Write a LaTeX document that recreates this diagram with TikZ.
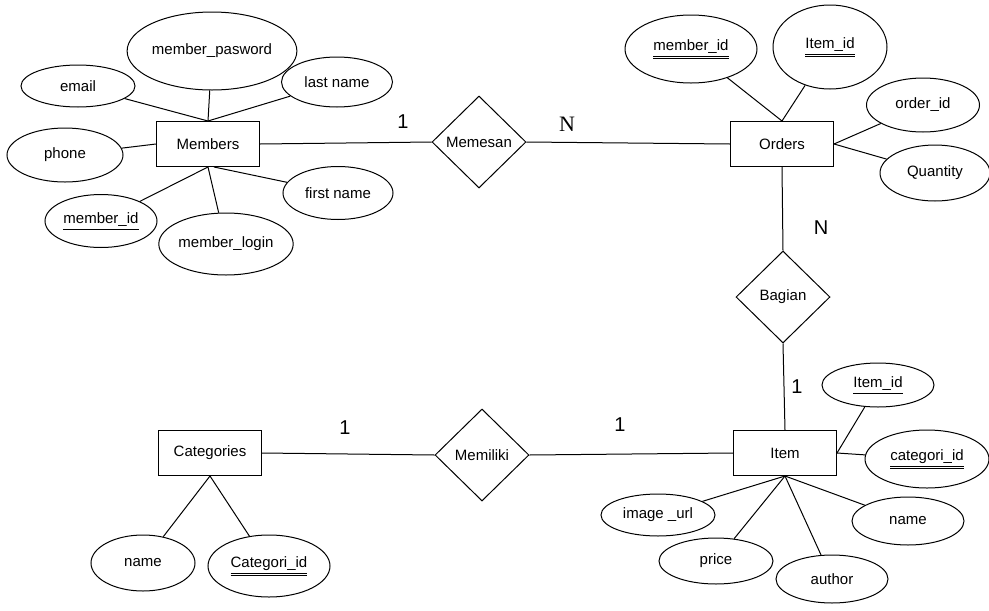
\documentclass[tikz,border=0pt]{standalone}
\usepackage{fontspec}
\setmainfont{Liberation Sans}
\newfontfamily\serifN{Liberation Serif}
\usetikzlibrary{shapes.geometric}
\newcommand\dul[1]{\setbox0\hbox{#1}\vtop{\copy0\kern2.5pt\hrule width\wd0 height0.8pt\kern1.6pt\hrule width\wd0 height0.8pt}}
\newcommand\sul[1]{\setbox0\hbox{#1}\vtop{\copy0\kern2.5pt\hrule width\wd0 height0.9pt}}
\tikzset{
  every node/.style={font=\fontsize{15}{17}\selectfont, inner sep=0pt},
  attr/.style={ellipse, draw, line width=1pt},
  ent/.style={rectangle, draw, line width=1pt, minimum width=103pt, minimum height=45pt},
  rel/.style={diamond, draw, line width=1pt, minimum width=94pt, minimum height=92pt},
  conn/.style={line width=1pt},
  card/.style={font=\fontsize{20}{22}\selectfont},
}
\begin{document}
\begin{tikzpicture}[x=1pt,y=-1pt]
\useasboundingbox[fill=white] (0,0) rectangle (989,611);
% Members
\node[ent] (members) at (208,144) {Members};
\node[attr, minimum width=160pt, minimum height=78pt] (mpass) at (212,51) {member\_pasword};
\node[attr, minimum width=114pt, minimum height=42pt] (email) at (78,86) {email};
\node[attr, minimum width=111pt, minimum height=50pt] (lname) at (337,82) {last name};
\node[attr, minimum width=116pt, minimum height=54pt] (phone) at (65,155) {phone};
\node[attr, minimum width=112pt, minimum height=53pt] (mid) at (101,221) {\sul{member\_id}};
\node[attr, minimum width=122pt, minimum height=62pt] (mlogin) at (226,244) {member\_login};
\node[attr, minimum width=110pt, minimum height=53pt] (fname) at (338,193) {first name};
\draw[conn] (mpass) -- (members.north);
\draw[conn] (email) -- (members.north);
\draw[conn] (lname) -- (members.north);
\draw[conn] (phone) -- (members.west);
\draw[conn] (mid) -- (members.south);
\draw[conn] (mlogin) -- (members.south);
\draw[conn] (fname) -- ([xshift=6pt]members.south);
% Memesan
\node[rel] (memesan) at (479,142) {Memesan};
\draw[conn] (members.east) -- (memesan.west);
% Orders
\node[ent] (orders) at (782,144) {Orders};
\draw[conn] (memesan.east) -- (orders.west);
\node[attr, minimum width=132pt, minimum height=68pt] (omid) at (691,49) {\dul{member\_id}};
\node[attr, minimum width=114pt, minimum height=84pt] (oiid) at (830,47) {\dul{Item\_id}};
\node[attr, minimum width=113pt, minimum height=54pt] (oid) at (923,105) {order\_id};
\node[attr, minimum width=110pt, minimum height=56pt] (qty) at (935,173) {Quantity};
\draw[conn] (omid) -- (orders.north);
\draw[conn] (oiid) -- (orders.north);
\draw[conn] (oid) -- (orders.east);
\draw[conn] (qty) -- (orders.east);
% Bagian
\node[rel] (bagian) at (783,297) {Bagian};
\draw[conn] (orders.south) -- (bagian.north);
% Item
\node[ent] (item) at (785,453) {Item};
\draw[conn] (bagian.south) -- (item.north);
\node[attr, minimum width=112pt, minimum height=44pt] (iid) at (878,385) {\sul{Item\_id}};
\node[attr, minimum width=124pt, minimum height=58pt] (icat) at (927,459) {\dul{categori\_id}};
\node[attr, minimum width=114pt, minimum height=42pt] (iurl) at (658,515) {image \_url};
\node[attr, minimum width=112pt, minimum height=48pt] (iname) at (908,521) {name};
\node[attr, minimum width=114pt, minimum height=46pt] (iprice) at (716,561) {price};
\node[attr, minimum width=112pt, minimum height=48pt] (iauth) at (832,579) {author};
\draw[conn] (iid) -- (item.east);
\draw[conn] (icat) -- (item.east);
\draw[conn] (iurl) -- (item.south);
\draw[conn] (iprice) -- (item.south);
\draw[conn] (iauth) -- (item.south);
\draw[conn] (iname) -- (item.south);
% Memiliki
\node[rel] (memiliki) at (482,455) {Memiliki};
\node[ent] (cat) at (210,453) {Categories};
\draw[conn] (cat.east) -- (memiliki.west);
\draw[conn] (memiliki.east) -- (item.west);
\node[attr, minimum width=104pt, minimum height=56pt] (cname) at (143,563) {name};
\node[attr, minimum width=122pt, minimum height=62pt] (cid) at (269,566) {\dul{Categori\_id}};
\draw[conn] (cname) -- (cat.south);
\draw[conn] (cid) -- (cat.south);
% cardinalities
\node[card] (c1) at (403,122) {1};
\node[card, font=\serifN\fontsize{22}{24}\selectfont] (c2) at (567,124) {N};
\node[card] (c3) at (821,228) {N};
\node[card] (c4) at (797,387) {1};
\node[card] (c5) at (345,428) {1};
\node[card] (c6) at (620,425) {1};
\end{tikzpicture}
\end{document}
